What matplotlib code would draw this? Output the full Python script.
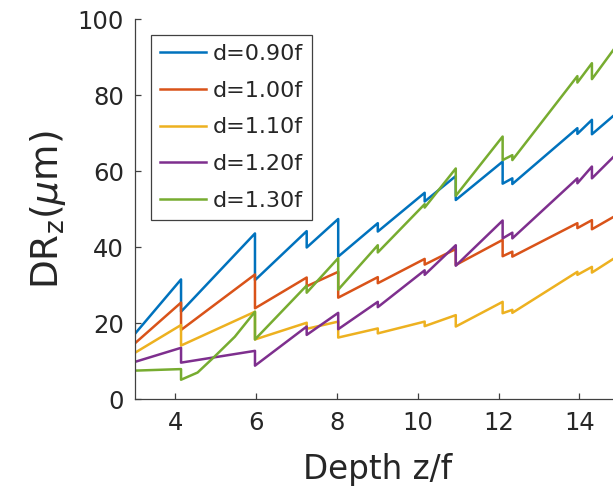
import numpy as np
import matplotlib.pyplot as plt

# depth range and the depths (z/f) where every curve jumps
z_start = 3.0
z_end = 15.0
z_jump = [4.14, 5.97, 7.25, 8.03, 9.01, 10.17, 10.94, 12.10, 12.34, 13.95, 14.31]

labels = ['d=0.90f', 'd=1.00f', 'd=1.10f', 'd=1.20f', 'd=1.30f']
colors = ['#0072BD', '#D95319', '#EDB120', '#7E2F8E', '#77AC30']

# DR_z (um) at z_start / at z_end
dr_start = [17.3, 14.8, 12.3, 9.9, 7.6]
dr_end = [76.1, 49.0, 38.1, 65.5, 94.3]

# DR_z just before each jump (top) and just after it (bottom)
top_090 = [31.6, 43.7, 44.3, 47.5, 46.4, 54.4, 58.8, 62.6, 58.2, 71.4, 73.6]
bot_090 = [23.1, 31.4, 40.0, 37.6, 44.2, 52.1, 52.5, 56.8, 56.7, 69.9, 69.8]
top_100 = [25.5, 32.9, 32.1, 33.6, 32.2, 37.0, 39.6, 42.0, 38.9, 46.4, 47.2]
bot_100 = [18.3, 24.0, 29.8, 26.8, 30.6, 35.5, 35.4, 37.7, 37.6, 45.1, 44.8]
top_110 = [19.6, 23.1, 20.2, 20.5, 18.7, 20.5, 22.2, 25.7, 23.6, 33.6, 34.9]
bot_110 = [14.2, 15.8, 18.6, 16.3, 17.4, 19.3, 19.2, 22.7, 22.8, 32.8, 33.4]
top_120 = [13.6, 12.8, 19.2, 22.8, 25.7, 34.0, 40.6, 47.1, 43.9, 58.2, 61.3]
bot_120 = [9.7, 8.9, 17.0, 18.5, 24.3, 32.8, 35.2, 42.4, 42.4, 56.9, 58.2]
top_130 = [8.0, 23.1, 30.0, 37.2, 40.6, 51.4, 60.8, 69.2, 64.3, 85.1, 88.5]
bot_130 = [5.2, 15.8, 28.1, 28.9, 38.7, 50.5, 53.6, 63.0, 63.0, 83.4, 84.3]

# a few extra readings where a segment is bent (only d=1.30f, between 4 and 6)
bend_z_130 = [4.55, 4.97, 5.47]
bend_130 = [7.1, 11.3, 16.5]

tops = [top_090, top_100, top_110, top_120, top_130]
bots = [bot_090, bot_100, bot_110, bot_120, bot_130]
bends_z = [[], [], [], [], bend_z_130]
bends = [[], [], [], [], bend_130]


def sawtooth(start, top, bot, end, bz, bv):
    #rise to the top value, drop straight down at the same depth
    x = [z_start]
    y = [start]
    for zj, t, b in zip(z_jump, top, bot):
        x += [zj, zj]
        y += [t, b]
    x.append(z_end)
    y.append(end)
    x = np.array(x + list(bz))
    y = np.array(y + list(bv))
    order = np.argsort(x, kind='stable')
    return x[order], y[order]


fig = plt.figure(figsize=(6.13, 5.01), dpi=100)
ax = fig.add_axes([0.2202, 0.2026, 0.7909, 0.7585])

for i in range(len(labels)):
    x, y = sawtooth(dr_start[i], tops[i], bots[i], dr_end[i], bends_z[i], bends[i])
    ax.plot(x, y, color=colors[i], lw=1.8, label=labels[i])

ax.set_xlim(3, 15)
ax.set_ylim(0, 100)
ax.set_xticks([4, 6, 8, 10, 12, 14])
ax.set_yticks([0, 20, 40, 60, 80, 100])

#matlab look: box off, ticks pointing in
ax.spines['top'].set_visible(False)
ax.spines['right'].set_visible(False)
for s in ['left', 'bottom']:
    ax.spines[s].set_color('#404040')
    ax.spines[s].set_linewidth(0.9)
ax.tick_params(direction='in', length=4, width=0.9, colors='#404040',
               labelcolor='#262626', labelsize=17.5, pad=8)

ax.set_xlabel('Depth z/f', fontsize=23.5, color='#262626', labelpad=13)
ax.set_ylabel(r'DR$_\mathrm{z}$($\mu$m)', fontsize=27, color='#262626', labelpad=7)

leg = ax.legend(loc='upper left', bbox_to_anchor=(0.0324, 0.959), borderaxespad=0,
                fontsize=16, handlelength=2.1, handletextpad=0.3, labelspacing=0.75,
                borderpad=0.4, fancybox=False, framealpha=1)
leg.get_frame().set_edgecolor('#404040')
leg.get_frame().set_linewidth(0.9)
for t in leg.get_texts():
    t.set_color('#262626')

fig.savefig('out.png', dpi=100)
